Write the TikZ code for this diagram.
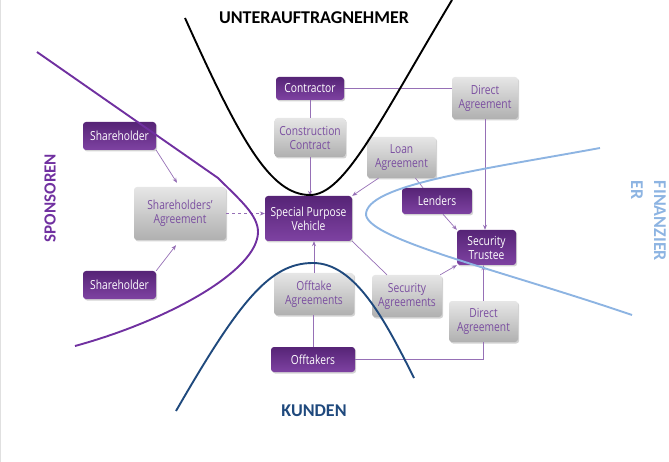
\documentclass[tikz,border=0pt]{standalone}
\usepackage{fontspec}
\setmainfont{Open Sans}[FakeStretch=0.82]
\newfontfamily\zonefont{Carlito}
\usepackage{xcolor}
\usetikzlibrary{shapes,arrows.meta,positioning,calc,shadows}

\definecolor{boxtop}{RGB}{86,36,118}
\definecolor{boxbottom}{RGB}{126,66,162}
\definecolor{greytop}{RGB}{230,230,230}
\definecolor{greybottom}{RGB}{176,176,176}
\definecolor{greytext}{RGB}{122,78,160}
\definecolor{linkcol}{RGB}{150,112,182}
\definecolor{sponsorcol}{RGB}{112,48,160}
\definecolor{customercol}{RGB}{31,73,125}
\definecolor{financecol}{RGB}{141,180,226}

\begin{document}
\begin{tikzpicture}[
    x=1pt, y=-1pt,
    darkbox/.style={rectangle, rounded corners=3pt, top color=boxtop, bottom color=boxbottom, text=white, align=center, inner sep=1pt, font=\fontsize{12.5}{14}\selectfont, drop shadow={shadow xshift=1.2pt, shadow yshift=-1.5pt, opacity=0.35}},
    greybox/.style={rectangle, rounded corners=3pt, top color=greytop, bottom color=greybottom, text=greytext, align=center, inner sep=1pt, font=\fontsize{12.5}{14}\selectfont, drop shadow={shadow xshift=1.2pt, shadow yshift=-1.5pt, opacity=0.35}},
    link/.style={draw=linkcol, line width=0.7pt},
    arrow/.style={link, -{Stealth[length=5pt, width=4pt]}},
    zone/.style={line width=1.9pt},
    zonelabel/.style={font=\zonefont\bfseries\fontsize{18}{20}\selectfont}
]
    \useasboundingbox (0,0) rectangle (669,462);
    \draw [black!12, line width=1pt] (0.5,0) -- (0.5,462);

    % parties and agreements
    \node [darkbox, minimum width=68pt, minimum height=23pt] (contractor) at (310,88.5) {Contractor};
    \node [greybox, minimum width=66pt, minimum height=42pt] (directtop) at (485,98) {Direct\\Agreement};
    \node [greybox, minimum width=71pt, minimum height=39pt] (construction) at (310,137.5) {Construction\\Contract};
    \node [greybox, minimum width=69pt, minimum height=41pt] (loan) at (401.5,157.5) {Loan\\Agreement};
    \node [darkbox, minimum width=73pt, minimum height=28pt] (shtop) at (119.5,136) {Shareholder};
    \node [greybox, minimum width=92pt, minimum height=53pt] (shagree) at (180,213.5) {Shareholders’\\Agreement};
    \node [darkbox, minimum width=87pt, minimum height=45pt] (spv) at (308.5,218.5) {Special Purpose\\Vehicle};
    \node [darkbox, minimum width=70pt, minimum height=26pt] (lenders) at (437,201) {Lenders};
    \node [darkbox, minimum width=59pt, minimum height=35pt] (trustee) at (486.5,247.5) {Security\\Trustee};
    \node [darkbox, minimum width=73pt, minimum height=28pt] (shbottom) at (119.5,285) {Shareholder};
    \node [greybox, minimum width=80pt, minimum height=42pt] (offtake) at (314,294) {Offtake\\Agreements};
    \node [greybox, minimum width=70pt, minimum height=42pt] (secagree) at (407,296) {Security\\Agreements};
    \node [greybox, minimum width=69pt, minimum height=41pt] (directbottom) at (483.5,321.5) {Direct\\Agreement};
    \node [darkbox, minimum width=84pt, minimum height=25pt] (offtakers) at (313,359.5) {Offtakers};

    % connectors
    \draw [link] (contractor.east) -- (contractor.east -| directtop.west);
    \draw [link] (contractor) -- (construction);
    \draw [arrow] (construction.south) -- (construction.south |- spv.north);
    \draw [arrow] (directtop.south) -- (directtop.south |- trustee.north);
    \draw [arrow] ([xshift=-23pt]loan.south) -- (spv.north east);
    \draw [link] ([xshift=14pt]loan.south) -- ([xshift=-14pt]lenders.north);
    \draw [arrow] ([xshift=6pt]lenders.south) -- (trustee.north west);
    \draw [arrow] (shtop.south east) -- ([xshift=-3pt, yshift=4pt]shagree.north);
    \draw [arrow] (shbottom.north east) -- ([xshift=-4pt, yshift=-5pt]shagree.south);
    \draw [arrow, dashed] (shagree.east) -- (shagree.east -| spv.west);
    \draw [link] (spv.south east) -- ([xshift=-20pt]secagree.north);
    \draw [arrow] ([xshift=-2pt]secagree.north east) -- (trustee.south west);
    \draw [arrow] (offtake.north) -- (offtake.north |- spv.south);
    \draw [link] (offtakers.north) -- (offtakers.north |- offtake.south);
    \draw [link] (offtakers.east) -| (directbottom.south);
    \draw [arrow] (directbottom.north) -- (directbottom.north |- trustee.south);

    % zones
    \draw [zone, black] (185,18) .. controls (240,140) and (270,195) .. (310,195) .. controls (345,195) and (380,120) .. (452,0);
    \draw [zone, sponsorcol] (37,52) -- (218,178) .. controls (240,200) and (258,215) .. (258,232) .. controls (258,270) and (170,320) .. (75,346);
    \draw [zone, financecol] (600,148) .. controls (480,170) and (365,185) .. (366,215) .. controls (370,240) and (500,270) .. (632,315);
    \draw [zone, customercol] (176,411) .. controls (240,300) and (270,263) .. (313,263) .. controls (355,263) and (385,320) .. (414,378);

    \node [zonelabel, text=black] (subs) at (314,18) {UNTERAUFTRAGNEHMER};
    \node [zonelabel, text=sponsorcol, rotate=90, font=\zonefont\bfseries\fontsize{17}{20}\selectfont] (sponsors) at (50,198) {SPONSOREN};
    \node [zonelabel, text=customercol] (customers) at (314,411) {KUNDEN};
    \node [zonelabel, text=financecol, rotate=-90, align=left, font=\zonefont\bfseries\fontsize{18}{23}\selectfont] (finance) at (648.5,221) {FINANZIER\\ER};
\end{tikzpicture}
\end{document}
